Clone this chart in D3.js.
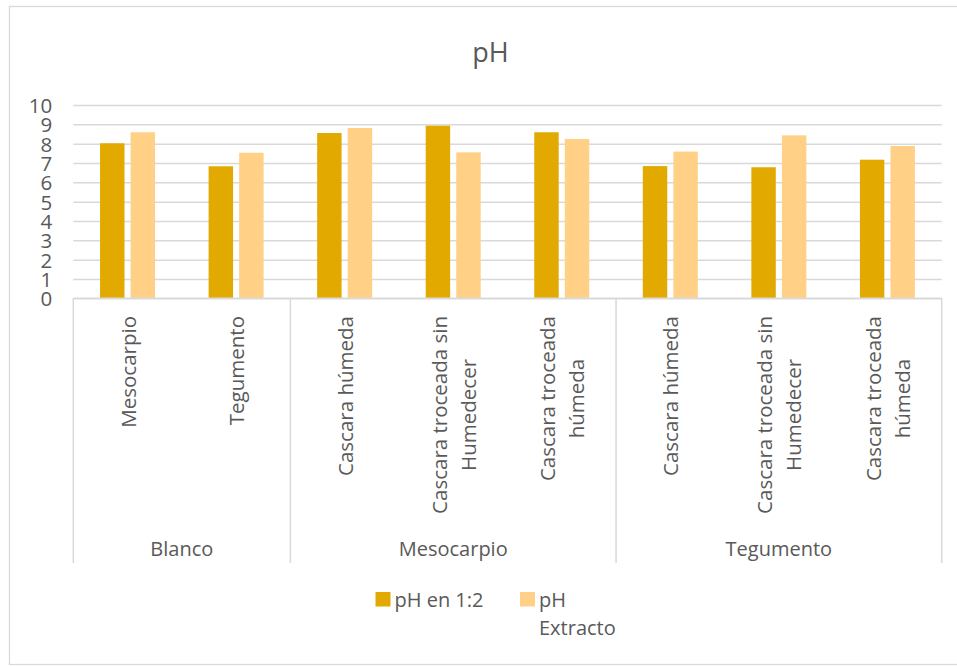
<!DOCTYPE html>
<html>
<head>
<meta charset="utf-8">
<script src="https://cdn.jsdelivr.net/npm/d3@7"></script>
<style>
  html, body { margin: 0; padding: 0; background: #fff; }
  svg { display: block; }
</style>
</head>
<body>
<svg id="chart" width="957" height="666"></svg>
<script>
// pH de extractos por tipo de muestra
const groups = ["Blanco", "Mesocarpio", "Tegumento"];
const categoryLines = [
  ["Mesocarpio"],
  ["Tegumento"],
  ["Cascara húmeda"],
  ["Cascara troceada sin", "Humedecer"],
  ["Cascara troceada", "húmeda"],
  ["Cascara húmeda"],
  ["Cascara troceada sin", "Humedecer"],
  ["Cascara troceada", "húmeda"]
];
const categoryGroup = [0, 0, 1, 1, 1, 2, 2, 2];
const seriesNames = ["pH en 1:2", "pH Extracto"];
const phRatio12 = [8.02, 6.83, 8.55, 8.93, 8.59, 6.84, 6.78, 7.17];
const phExtracto = [8.59, 7.53, 8.81, 7.55, 8.24, 7.59, 8.43, 7.88];
const yTicks = [0, 1, 2, 3, 4, 5, 6, 7, 8, 9, 10];

const colors = ["#E2AA00", "#FFD086"];
const textColor = "#595959";
const lineColor = "#D9D9D9";
const font = "'Open Sans', 'Noto Sans', sans-serif";

const svg = d3.select("#chart");

// outer chart frame
svg.append("rect")
  .attr("x", 9.5).attr("y", 6.5)
  .attr("width", 952).attr("height", 658)
  .attr("fill", "#fff").attr("stroke", lineColor).attr("stroke-width", 1.3);

const plot = { left: 73.3, right: 941.7, top: 105, bottom: 298.3 };

const x = d3.scaleBand()
  .domain(d3.range(categoryLines.length))
  .range([plot.left, plot.right])
  .padding(0);

const inner = d3.scaleBand()
  .domain([0, 1])
  .range([26.75, 81.75])
  .paddingInner(0.2)
  .paddingOuter(0);

const y = d3.scaleLinear().domain([0, 10]).range([plot.bottom, plot.top]);

// title
svg.append("text")
  .attr("x", 490.5).attr("y", 61.5)
  .attr("text-anchor", "middle")
  .attr("font-family", font).attr("font-size", 27)
  .attr("fill", textColor)
  .text("pH");

// horizontal gridlines + value axis labels
const yAxis = d3.axisLeft(y)
  .tickValues(yTicks)
  .tickSize(-(plot.right - plot.left))
  .tickPadding(21)
  .tickFormat(d3.format("d"));

const yG = svg.append("g")
  .attr("transform", `translate(${plot.left},0)`)
  .call(yAxis);
yG.select(".domain").remove();
yG.selectAll(".tick line").attr("stroke", lineColor).attr("stroke-width", 1.5);
yG.selectAll(".tick text")
  .attr("font-family", font).attr("font-size", 20.5)
  .attr("fill", textColor)
  .attr("dy", "0.36em");

// bars
const seriesData = [phRatio12, phExtracto];
seriesData.forEach((vals, s) => {
  svg.append("g").selectAll("rect")
    .data(vals)
    .join("rect")
    .attr("x", (d, i) => x(i) + inner(s))
    .attr("y", d => y(d))
    .attr("width", inner.bandwidth())
    .attr("height", d => y(0) - y(d))
    .attr("fill", colors[s]);
});

// category axis: baseline and group separators
const axisG = svg.append("g");
axisG.append("line")
  .attr("x1", plot.left).attr("x2", plot.right)
  .attr("y1", plot.bottom).attr("y2", plot.bottom)
  .attr("stroke", lineColor).attr("stroke-width", 1.5);

const groupBounds = groups.map((g, gi) => {
  const idx = categoryGroup.map((c, i) => c === gi ? i : -1).filter(i => i >= 0);
  return { name: g, x0: x(idx[0]), x1: x(idx[idx.length - 1]) + x.bandwidth() };
});
const sepX = [groupBounds[0].x0].concat(groupBounds.map(b => b.x1));
axisG.selectAll("line.sep")
  .data(sepX)
  .join("line")
  .attr("class", "sep")
  .attr("x1", d => d).attr("x2", d => d)
  .attr("y1", plot.bottom).attr("y2", 563)
  .attr("stroke", lineColor).attr("stroke-width", 1.5);

// rotated category labels
const labelTop = 316;
const lineGap = 29;
categoryLines.forEach((lines, i) => {
  const cx = x(i) + x.bandwidth() / 2;
  const t = svg.append("text")
    .attr("font-family", font).attr("font-size", 20.5)
    .attr("fill", textColor)
    .attr("text-anchor", "middle")
    .attr("transform", "rotate(-90)");
  const spans = lines.map((ln, k) => t.append("tspan").text(ln));
  const maxLen = d3.max(spans, sp => sp.node().getComputedTextLength());
  const centerY = labelTop + maxLen / 2;
  spans.forEach((sp, k) => {
    const base = cx + (k - (lines.length - 1) / 2) * lineGap + 8;
    sp.attr("x", -centerY).attr("y", base);
  });
});

// group labels
svg.append("g").selectAll("text")
  .data(groupBounds)
  .join("text")
  .attr("x", d => (d.x0 + d.x1) / 2)
  .attr("y", 556)
  .attr("text-anchor", "middle")
  .attr("font-family", font).attr("font-size", 20)
  .attr("fill", textColor)
  .text(d => d.name);

// legend
const legend = svg.append("g").attr("font-family", font).attr("font-size", 20).attr("fill", textColor);
const legendItems = [
  { x: 375.5, lines: ["pH en 1:2"] },
  { x: 520, lines: ["pH", "Extracto"] }
];
legendItems.forEach((it, s) => {
  legend.append("rect")
    .attr("x", it.x).attr("y", 592)
    .attr("width", 15).attr("height", 14.5)
    .attr("fill", colors[s]);
  const t = legend.append("text").attr("x", it.x + 19).attr("y", 606.5);
  it.lines.forEach((ln, k) => {
    t.append("tspan").attr("x", it.x + 19).attr("dy", k === 0 ? 0 : 28.5).text(ln);
  });
});
</script>
</body>
</html>
